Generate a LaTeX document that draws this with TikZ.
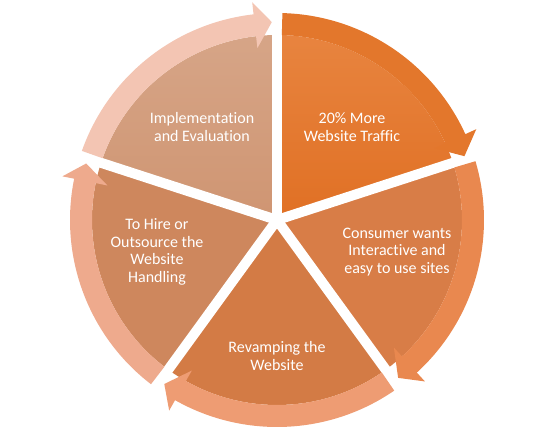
\documentclass[tikz,border=0pt]{standalone}
\usepackage{fontspec}
\setmainfont{Carlito}[Ligatures=NoCommon]

\definecolor{segA}{HTML}{E07024}
\definecolor{segAtop}{HTML}{E8843F}
\definecolor{segB}{HTML}{D87D47}
\definecolor{segC}{HTML}{D37B45}
\definecolor{segD}{HTML}{CE875D}
\definecolor{segE}{HTML}{CF9572}
\definecolor{bandA}{HTML}{E3772C}
\definecolor{bandB}{HTML}{E9884F}
\definecolor{bandC}{HTML}{EE9C73}
\definecolor{bandD}{HTML}{EEAA8D}
\definecolor{bandE}{HTML}{F3C5B3}

\begin{document}
\begin{tikzpicture}[x=1pt, y=1pt,
    seglabel/.style={text=white, align=center, font=\fontsize{16}{17.5}\selectfont},
    gap/.style={white, line width=10pt}]
    \useasboundingbox (-277,-224) rectangle (283,220);

    % Pie segments (clockwise from the top)
    \shade[top color=segAtop, bottom color=segA] (0,0) -- (90:185) arc[start angle=90, end angle=18, radius=185] -- cycle;
    \fill[segB] (0,0) -- (18:185) arc[start angle=18, end angle=-54, radius=185] -- cycle;
    \fill[segC] (0,0) -- (-54:185) arc[start angle=-54, end angle=-126, radius=185] -- cycle;
    \fill[segD] (0,0) -- (234:185) arc[start angle=234, end angle=162, radius=185] -- cycle;
    \shade[top color=segE!85!white, bottom color=segE] (0,0) -- (162:185) arc[start angle=162, end angle=90, radius=185] -- cycle;

    % Gaps between segments
    \draw[gap] (0,0) -- (90:230);
    \draw[gap] (0,0) -- (18:230);
    \draw[gap] (0,0) -- (-54:230);
    \draw[gap] (0,0) -- (-126:230);
    \draw[gap] (0,0) -- (162:230);

    % Curved arrows on the rim
    \fill[bandA] (88.5:207) arc[start angle=88.5, end angle=24.5, radius=207] -- (24.5:219) -- (18.8:198) -- (24.5:173) -- (24.5:185) arc[start angle=24.5, end angle=88.5, radius=185] -- cycle;
    \fill[bandB] (16.5:207) arc[start angle=16.5, end angle=-47.5, radius=207] -- (-47.5:219) -- (-52.5:199) -- (-47.5:173) -- (-47.5:185) arc[start angle=-47.5, end angle=16.5, radius=185] -- cycle;
    \fill[bandC] (-55.5:207) arc[start angle=-55.5, end angle=-119.5, radius=207] -- (-119.5:219) -- (-124.5:199) -- (-119.5:173) -- (-119.5:185) arc[start angle=-119.5, end angle=-55.5, radius=185] -- cycle;
    \fill[bandD] (232.5:207) arc[start angle=232.5, end angle=168.5, radius=207] -- (168.5:219) -- (163.5:199) -- (168.5:173) -- (168.5:185) arc[start angle=168.5, end angle=232.5, radius=185] -- cycle;
    \fill[bandE] (160.5:207) arc[start angle=160.5, end angle=96.5, radius=207] -- (96.5:219) -- (91.5:198) -- (96.5:173) -- (96.5:185) arc[start angle=96.5, end angle=160.5, radius=185] -- cycle;

    % Labels
    \node[seglabel] (traffic) at (75,93) {20\% More\\Website Traffic};
    \node[seglabel] (consumer) at (120,-32) {Consumer wants\\Interactive and\\easy to use sites};
    \node[seglabel] (revamp) at (0,-136) {Revamping the\\Website};
    \node[seglabel] (hire) at (-120,-32) {To Hire or\\Outsource the\\Website\\Handling};
    \node[seglabel] (evaluation) at (-75,93) {Implementation\\and Evaluation};
\end{tikzpicture}
\end{document}
